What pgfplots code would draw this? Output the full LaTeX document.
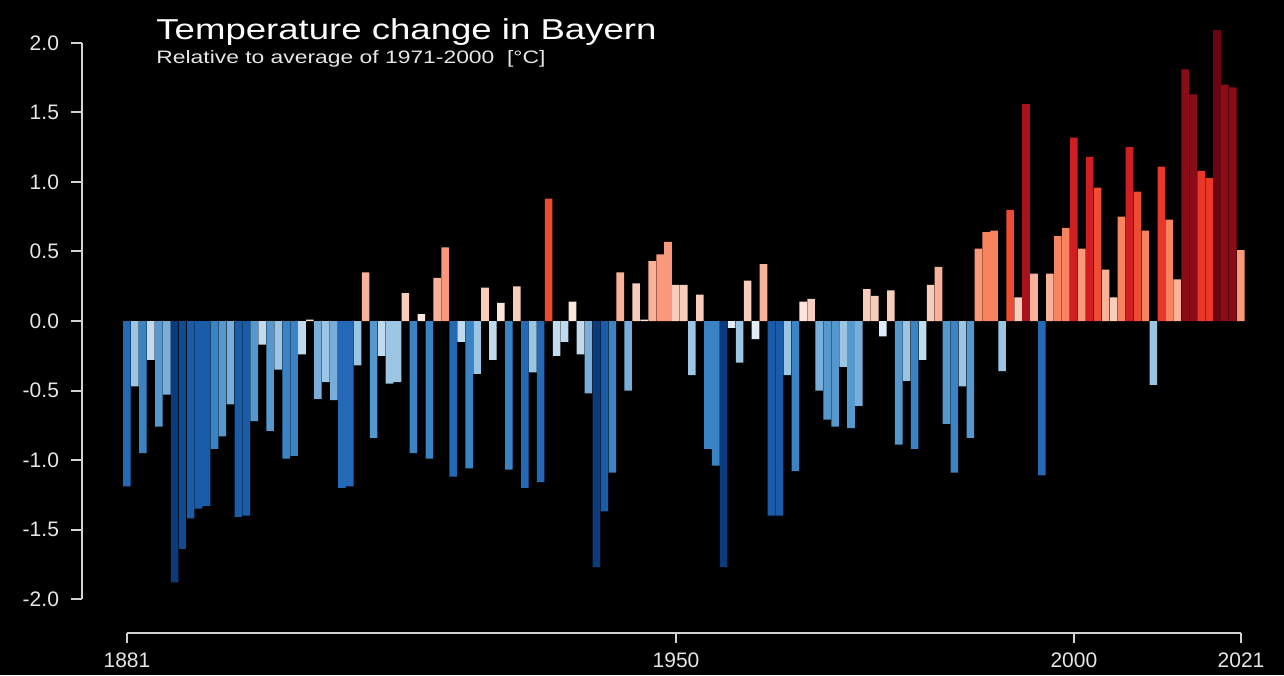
\documentclass[border=0pt]{standalone}
\usepackage{fontspec}
\setmainfont{Liberation Sans}[FakeStretch=1.27]
\newfontfamily\tickfont{Liberation Sans}
\usepackage{pgfplots}
\usepackage{pgfplotstable}
\pgfplotsset{compat=1.18}

% anomaly vs 1971-2000, degC
\pgfplotstableread{
year t
1881 -1.19
1882 -0.47
1883 -0.95
1884 -0.28
1885 -0.76
1886 -0.53
1887 -1.88
1888 -1.64
1889 -1.42
1890 -1.35
1891 -1.33
1892 -0.92
1893 -0.83
1894 -0.60
1895 -1.41
1896 -1.40
1897 -0.72
1898 -0.17
1899 -0.79
1900 -0.35
1901 -0.99
1902 -0.97
1903 -0.24
1904 0.01
1905 -0.56
1906 -0.44
1907 -0.57
1908 -1.20
1909 -1.19
1910 -0.32
1911 0.35
1912 -0.84
1913 -0.25
1914 -0.45
1915 -0.44
1916 0.20
1917 -0.95
1918 0.05
1919 -0.99
1920 0.31
1921 0.53
1922 -1.12
1923 -0.15
1924 -1.06
1925 -0.38
1926 0.24
1927 -0.28
1928 0.13
1929 -1.07
1930 0.25
1931 -1.20
1932 -0.37
1933 -1.16
1934 0.88
1935 -0.25
1936 -0.15
1937 0.14
1938 -0.24
1939 -0.52
1940 -1.77
1941 -1.37
1942 -1.09
1943 0.35
1944 -0.50
1945 0.27
1946 0.01
1947 0.43
1948 0.48
1949 0.57
1950 0.26
1951 0.26
1952 -0.39
1953 0.19
1954 -0.92
1955 -1.04
1956 -1.77
1957 -0.05
1958 -0.30
1959 0.29
1960 -0.13
1961 0.41
1962 -1.40
1963 -1.40
1964 -0.39
1965 -1.08
1966 0.14
1967 0.16
1968 -0.50
1969 -0.71
1970 -0.76
1971 -0.33
1972 -0.77
1973 -0.61
1974 0.23
1975 0.18
1976 -0.11
1977 0.22
1978 -0.89
1979 -0.43
1980 -0.92
1981 -0.28
1982 0.26
1983 0.39
1984 -0.74
1985 -1.09
1986 -0.47
1987 -0.84
1988 0.52
1989 0.64
1990 0.65
1991 -0.36
1992 0.80
1993 0.17
1994 1.56
1995 0.34
1996 -1.11
1997 0.34
1998 0.61
1999 0.67
2000 1.32
2001 0.52
2002 1.18
2003 0.96
2004 0.37
2005 0.17
2006 0.75
2007 1.25
2008 0.93
2009 0.65
2010 -0.46
2011 1.11
2012 0.73
2013 0.30
2014 1.81
2015 1.63
2016 1.08
2017 1.03
2018 2.09
2019 1.70
2020 1.68
2021 0.51
}\bayern

% stripe colours, dark blue -> white -> dark red
\definecolor{b1}{HTML}{0B3B7C}
\definecolor{b2}{HTML}{114A8E}
\definecolor{b3}{HTML}{1A5CA8}
\definecolor{b4}{HTML}{2369B6}
\definecolor{b5}{HTML}{3A84C5}
\definecolor{b6}{HTML}{5598CE}
\definecolor{b7}{HTML}{78AED9}
\definecolor{b8}{HTML}{9CC5E3}
\definecolor{b9}{HTML}{C2DAEE}
\definecolor{b10}{HTML}{E0ECF6}
\definecolor{r1}{HTML}{FCE5DA}
\definecolor{r2}{HTML}{F9CDBB}
\definecolor{r3}{HTML}{F8B299}
\definecolor{r4}{HTML}{F9987A}
\definecolor{r5}{HTML}{F7845F}
\definecolor{r6}{HTML}{EE4B33}
\definecolor{r7}{HTML}{E9382A}
\definecolor{r8}{HTML}{D01F22}
\definecolor{r9}{HTML}{A8121C}
\definecolor{r10}{HTML}{890C17}
\definecolor{r11}{HTML}{690610}
\definecolor{axisgrey}{HTML}{D2D2D2}
\definecolor{txt}{HTML}{E6E6E6}

\pgfplotsset{
  stripe/.style 2 args={ybar, bar width=0.95, bar shift=0pt, draw=none,
    fill=#1, restrict y to domain=#2},
}
\newcommand{\stripe}[2]{\addplot[stripe={#1}{#2}] table[x=year,y=t]{\bayern};}

\begin{document}
\begin{tikzpicture}
\fill[black] (0pt,0pt) rectangle (642pt,337.5pt);
\path[use as bounding box] (0pt,0pt) rectangle (642pt,337.5pt);

\begin{axis}[
    at={(41pt,38pt)}, anchor=south west,
    scale only axis, width=583.8pt, height=278pt,
    xmin=1875.35, xmax=2022.1, ymin=-2, ymax=2,
    clip=false,
    axis x line=none, axis y line*=left,
    y axis line style={draw=axisgrey, line width=1pt, -},
    ytick={-2,-1.5,...,2},
    tick align=outside, major tick length=5.5pt,
    y tick style={draw=axisgrey, line width=1pt},
    yticklabel style={font=\tickfont\fontsize{10.5}{10.5}\selectfont, text=txt,
      xshift=-2.5pt,
      /pgf/number format/fixed, /pgf/number format/fixed zerofill,
      /pgf/number format/precision=1,
      /pgf/number format/assume math mode=true},
  ]
  \stripe{b1}{-3:-1.70}
  \stripe{b2}{-1.69:-1.50}
  \stripe{b3}{-1.49:-1.30}
  \stripe{b4}{-1.29:-1.10}
  \stripe{b5}{-1.09:-0.90}
  \stripe{b6}{-0.89:-0.70}
  \stripe{b7}{-0.69:-0.50}
  \stripe{b8}{-0.49:-0.30}
  \stripe{b9}{-0.29:-0.15}
  \stripe{b10}{-0.14:-0.005}
  \stripe{r1}{0:0.14}
  \stripe{r2}{0.15:0.29}
  \stripe{r3}{0.30:0.44}
  \stripe{r4}{0.45:0.59}
  \stripe{r5}{0.60:0.79}
  \stripe{r6}{0.80:0.99}
  \stripe{r7}{1.00:1.14}
  \stripe{r8}{1.15:1.34}
  \stripe{r9}{1.35:1.59}
  \stripe{r10}{1.60:1.89}
  \stripe{r11}{1.90:3}
\end{axis}

% separate bottom axis, 1881 to 2021 only
\begin{axis}[
    at={(63.5pt,21pt)}, anchor=south west,
    scale only axis, width=557pt, height=10pt,
    xmin=1881, xmax=2021, ymin=0, ymax=1,
    axis x line*=bottom, axis y line=none,
    x axis line style={draw=axisgrey, line width=1pt, -},
    xtick={1881,1950,2000,2021},
    tick align=outside, major tick length=5pt,
    x tick style={draw=axisgrey, line width=1pt},
    xticklabel style={font=\tickfont\fontsize{10.5}{10.5}\selectfont, text=txt,
      yshift=-1.5pt,
      /pgf/number format/1000 sep={},
      /pgf/number format/assume math mode=true},
  ]
  \addplot[draw=none] coordinates {(1881,0) (2021,0)};
\end{axis}

\node[anchor=north west, inner sep=0pt, text=white]
  at (78pt,328.5pt) {\fontsize{14.4}{14.4}\selectfont Temperature change in Bayern};
\node[anchor=north west, inner sep=0pt, text=txt]
  at (78pt,312.5pt) {\fontsize{9}{9}\selectfont Relative to average of 1971-2000\ \ [°C]};
\end{tikzpicture}
\end{document}
